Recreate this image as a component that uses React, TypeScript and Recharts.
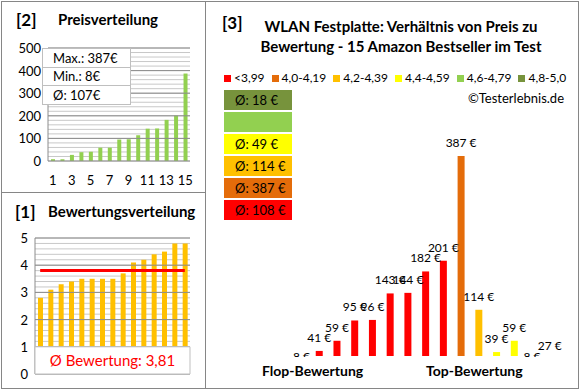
import React from "react";
import { BarChart, Bar, XAxis, YAxis, CartesianGrid, Cell, LabelList, ReferenceLine, ReferenceArea } from "recharts";

// products sorted by rating (left = flop, right = top)
const ratings = [2.8, 3.1, 3.3, 3.4, 3.5, 3.5, 3.5, 3.5, 3.7, 4.1, 4.2, 4.4, 4.5, 4.8, 4.8];
const prices = [8, 41, 59, 95, 96, 143, 144, 182, 201, 387, 114, 39, 59, 8, 27];

// rating classes
const classLabels = ["<3,99", "4,0-4,19", "4,2-4,39", "4,4-4,59", "4,6-4,79", "4,8-5,0"];
const classUpper = [4.0, 4.2, 4.4, 4.6, 4.8, 5.01];
const classColors = ["#FF0000", "#E46C0A", "#FFC000", "#FFFF00", "#92D050", "#77933C"];

const priceTicks = [0, 100, 200, 300, 400, 500];
const ratingTicks = [0, 1, 2, 3, 4, 5];

const FONT = "Lato, 'Open Sans', sans-serif";
const BORDER = "#868686";

const priceMinor = Array.from({ length: 26 }, (_, i) => i * 20);
const ratingMinor = Array.from({ length: 26 }, (_, i) => Math.round(i * 2) / 10);

const classOf = (r: number) => classUpper.findIndex((u) => r < u);

const sortedPrices = [...prices].sort((a, b) => a - b);
const priceData = sortedPrices.map((p, i) => ({ rank: i + 1, price: p }));
const ratingData = ratings.map((r, i) => ({ rank: i + 1, rating: r, price: prices[i] }));

const maxPrice = Math.max(...prices);
const minPrice = Math.min(...prices);
const avgPrice = Math.round(prices.reduce((s, v) => s + v, 0) / prices.length);
const avgRating = ratings.reduce((s, v) => s + v, 0) / ratings.length;

const classAvg = classLabels.map((_, c) => {
  const list = prices.filter((_, i) => classOf(ratings[i]) === c);
  return list.length ? Math.round(list.reduce((s, v) => s + v, 0) / list.length) : null;
});

const tickText = (major: number[], fmt: (v: number) => string) => (p: any) => {
  const v = p.payload.value;
  if (!major.some((m) => Math.abs(m - v) < 1e-6)) return <g />;
  return (
    <text x={p.x} y={p.y} dy={5} textAnchor="end" fontSize={13} fill="#000" fontFamily={FONT}>
      {fmt(v)}
    </text>
  );
};

const PriceLabel = (props: any) => {
  const vb = props.viewBox || props;
  const x = (vb.x ?? props.x) + (vb.width ?? props.width) / 2;
  const y = vb.y ?? props.y;
  return (
    <text x={x} y={y - 9} textAnchor="middle" fontSize={12} fill="#000" fontFamily={FONT}>
      {props.value} €
    </text>
  );
};

export default function App() {
  return (
    <div style={{ position: "absolute", left: 0, top: 0, width: 580, height: 390, background: "#fff", fontFamily: FONT, color: "#000" }}>
      {/* panel frames */}
      <div style={{ position: "absolute", left: 1, top: 1, width: 576, height: 386, border: `1px solid ${BORDER}` }} />
      <div style={{ position: "absolute", left: 205, top: 1, width: 1, height: 387, background: BORDER }} />
      <div style={{ position: "absolute", left: 1, top: 192, width: 204, height: 1, background: BORDER }} />

      {/* [2] Preisverteilung */}
      <div style={{ position: "absolute", left: 16, top: 9, fontSize: 17, fontWeight: 700 }}>[2]</div>
      <div style={{ position: "absolute", left: 58, top: 10, fontSize: 15, fontWeight: 700 }}>Preisverteilung</div>
      <div style={{ position: "absolute", left: 0, top: 0 }}>
        <BarChart width={205} height={192} data={priceData} margin={{ top: 48, right: 15, bottom: 1, left: 18 }}>
          <CartesianGrid vertical={false} stroke="#c8c8c8" />
          {priceTicks.map((t) => (
            <ReferenceLine key={t} y={t} stroke="#8c8c8c" />
          ))}
          <XAxis dataKey="rank" interval={1} tickLine={false} axisLine={false} height={30} tickSize={0} tickMargin={15}
            tick={{ fontSize: 13, fill: "#000", fontFamily: FONT }} />
          <YAxis width={30} domain={[0, 500]} ticks={priceMinor} interval={0} tickLine={false} axisLine={{ stroke: "#8c8c8c" }}
            tickSize={5} tick={tickText(priceTicks, (v) => String(v))} />
          <Bar dataKey="price" fill="#92D050" barSize={4} isAnimationActive={false} />
        </BarChart>
      </div>
      <div style={{ position: "absolute", left: 42, top: 48, width: 87, height: 55, border: "1px solid #bfbfbf", background: "#fff", fontSize: 13 }}>
        <div style={{ height: 18, lineHeight: "18px", paddingLeft: 10, borderBottom: "1px solid #bfbfbf" }}>Max.: {maxPrice}€</div>
        <div style={{ height: 17, lineHeight: "17px", paddingLeft: 10, borderBottom: "1px solid #bfbfbf" }}>Min.: {minPrice}€</div>
        <div style={{ height: 18, lineHeight: "18px", paddingLeft: 10 }}>Ø: {avgPrice}€</div>
      </div>

      {/* [1] Bewertungsverteilung */}
      <div style={{ position: "absolute", left: 15, top: 201, fontSize: 17, fontWeight: 700 }}>[1]</div>
      <div style={{ position: "absolute", left: 48, top: 202, fontSize: 15, fontWeight: 700 }}>Bewertungsverteilung</div>
      <div style={{ position: "absolute", left: 0, top: 192 }}>
        <BarChart width={205} height={196} data={ratingData} margin={{ top: 46, right: 15, bottom: 14, left: 10 }}>
          <CartesianGrid vertical={false} stroke="#c8c8c8" />
          {ratingTicks.map((t) => (
            <ReferenceLine key={t} y={t} stroke="#8c8c8c" />
          ))}
          <XAxis dataKey="rank" hide />
          <YAxis width={25} domain={[0, 5]} ticks={ratingMinor} interval={0} tickLine={false} axisLine={{ stroke: "#8c8c8c" }}
            tickSize={5} tick={tickText(ratingTicks, (v) => String(v))} />
          <Bar dataKey="rating" fill="#FFC000" barSize={5} isAnimationActive={false} />
          <ReferenceArea y1={0} y2={1} fill="#fff" fillOpacity={1} stroke="#bfbfbf" zIndex={1000}
            label={{ value: `Ø Bewertung: ${avgRating.toFixed(2).replace(".", ",")}`, position: "center", fill: "#FF0000", fontSize: 15, fontFamily: FONT }} />
          <ReferenceLine segment={[{ x: 1, y: avgRating }, { x: ratings.length, y: avgRating }]} stroke="#FF0000" strokeWidth={3} zIndex={1000} />
        </BarChart>
      </div>

      {/* [3] Preis / Bewertung */}
      <div style={{ position: "absolute", left: 222, top: 12, fontSize: 17, fontWeight: 700 }}>[3]</div>
      <div style={{ position: "absolute", left: 206, top: 16, width: 390, textAlign: "center", fontSize: 15, fontWeight: 700, lineHeight: "20px" }}>
        WLAN Festplatte: Verhältnis von Preis zu<br />Bewertung - 15 Amazon Bestseller im Test
      </div>
      <div style={{ position: "absolute", left: 224, top: 70, display: "flex", gap: 7, fontSize: 12, lineHeight: "16px", whiteSpace: "nowrap" }}>
        {classLabels.map((l, i) => (
          <div key={l} style={{ display: "flex", alignItems: "center" }}>
            <span style={{ display: "inline-block", width: 7, height: 7, background: classColors[i], marginRight: 3 }} />
            {l}
          </div>
        ))}
      </div>
      <div style={{ position: "absolute", right: 16, top: 90, fontSize: 13, lineHeight: "16px" }}>©Testerlebnis.de</div>
      <div style={{ position: "absolute", left: 224, top: 90, width: 68 }}>
        {classAvg.map((_, k) => {
          const c = classAvg.length - 1 - k;
          return (
            <div key={c} style={{ height: 20, marginBottom: 2, background: classColors[c], fontSize: 13, lineHeight: "20px", paddingLeft: 11 }}>
              {classAvg[c] !== null ? `Ø: ${classAvg[c]} €` : ""}
            </div>
          );
        })}
      </div>
      <div style={{ position: "absolute", left: 205, top: 0 }}>
        <BarChart width={373} height={388} data={ratingData} margin={{ top: 126, right: 19, bottom: 32, left: 88 }}>
          <XAxis dataKey="rank" hide />
          <YAxis hide domain={[32, 440]} allowDataOverflow />
          <Bar dataKey="price" barSize={7} isAnimationActive={false}>
            {ratingData.map((d) => (
              <Cell key={d.rank} fill={classColors[classOf(d.rating)]} />
            ))}
            <LabelList dataKey="price" content={PriceLabel} />
          </Bar>
        </BarChart>
      </div>
      <div style={{ position: "absolute", left: 206, top: 357, width: 371, height: 30, background: "#fff" }} />
      <div style={{ position: "absolute", left: 262, top: 362, fontSize: 14, fontWeight: 700 }}>Flop-Bewertung</div>
      <div style={{ position: "absolute", left: 426, top: 362, fontSize: 14, fontWeight: 700 }}>Top-Bewertung</div>
    </div>
  );
}
